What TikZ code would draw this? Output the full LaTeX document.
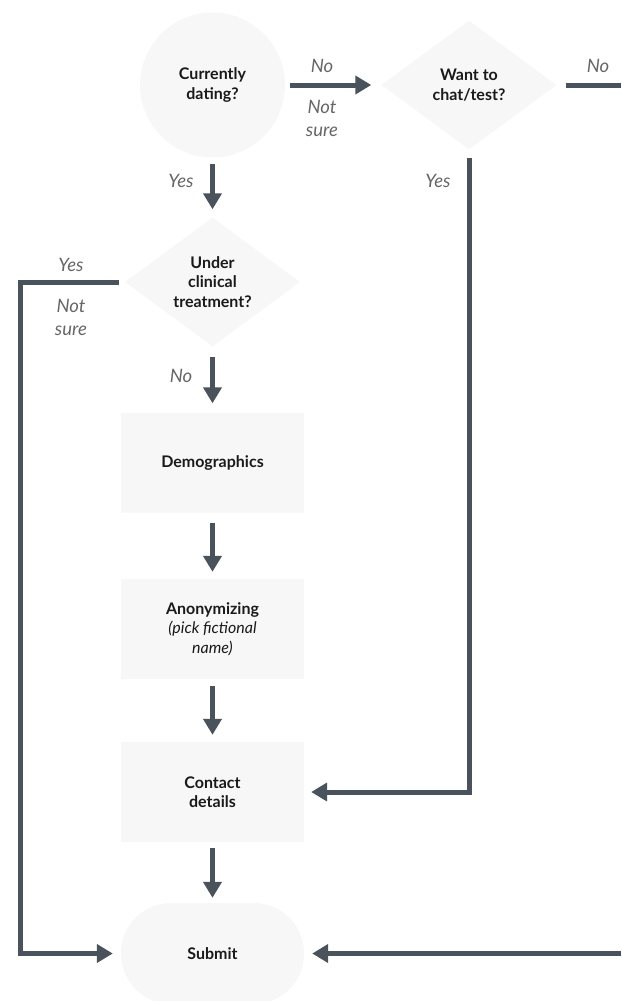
\documentclass[tikz,border=0pt]{standalone}
\usepackage{fontspec}
\setmainfont{Lato}
\usetikzlibrary{arrows.meta,shapes.geometric}

\definecolor{linkc}{HTML}{4A525C}
\definecolor{shapefill}{HTML}{F7F7F7}
\definecolor{labelc}{HTML}{666666}
\definecolor{textc}{HTML}{1A1A1A}

\begin{document}
\begin{tikzpicture}[x=1pt,y=-1pt,
  shapebase/.style={fill=shapefill,draw=none,inner sep=0pt,align=center,
    text=textc,font=\fontsize{16}{19.5}\selectfont\bfseries},
  decision/.style={shapebase,diamond,aspect=1.36,minimum width=175pt,minimum height=129pt},
  startnode/.style={shapebase,circle,minimum size=145pt},
  stepbox/.style={shapebase,rectangle,minimum width=183pt,minimum height=100pt},
  endnode/.style={shapebase,rectangle,rounded corners=50pt,minimum width=183pt,minimum height=101pt},
  link/.style={draw=linkc,line width=5pt,-{Triangle[length=16pt,width=18pt]}},
  plainlink/.style={draw=linkc,line width=5pt},
  answer/.style={text=labelc,align=center,font=\fontsize{18.5}{23}\selectfont\itshape}
]
\useasboundingbox (0,0) rectangle (621,1001);

% shapes
\node[startnode] (dating) at (212.5,85) {Currently\\dating?};
\node[decision] (chat) at (469,85) {Want to\\chat/test?};
\node[decision] (treat) at (212.5,282) {Under\\clinical\\treatment?};
\node[stepbox] (demo) at (212.5,462.5) {Demographics};
\node[stepbox] (anon) at (212.5,629) {Anonymizing\\{\mdseries\itshape (pick fictional}\\{\mdseries\itshape name)}};
\node[stepbox] (contact) at (212.5,792) {Contact\\details};
\begin{scope}
  \clip (0,0) rectangle (621,1001);
  \node[endnode] (submit) at (212.5,953.5) {Submit};
\end{scope}

% free ends at the right edge and the left corner
\coordinate (chatout) at (621,85);
\coordinate (subin) at (621,953.5);
\coordinate (lcorner) at (20,282);

% connectors
\draw[link,shorten <=5pt,shorten >=10pt] (dating.east) -- (chat.west);
\draw[plainlink,shorten <=9pt] (chat.east) -- (chatout);
\draw[link,shorten <=6pt,shorten >=8pt] (dating.south) -- (treat.north);
\draw[link,shorten <=8pt,shorten >=7pt] (chat.south) |- (contact.east);
\draw[link,shorten <=6pt,shorten >=8pt] (treat.west) -- (lcorner) |- (submit.west);
\draw[link,shorten <=10pt,shorten >=9pt] (treat.south) -- (demo.north);
\draw[link,shorten <=10pt,shorten >=7pt] (demo.south) -- (anon.north);
\draw[link,shorten <=7pt,shorten >=7pt] (anon.south) -- (contact.north);
\draw[link,shorten <=6pt,shorten >=5pt] (contact.south) -- (submit.north);
\draw[link,shorten >=8pt] (subin) -- (submit.east);

% answer labels
\node[answer] (l1) at (322,66) {No};
\node[answer] (l2) at (322,118) {Not\\sure};
\node[answer] (l3) at (598,66) {No};
\node[answer] (l4) at (181,181) {Yes};
\node[answer] (l5) at (438,181) {Yes};
\node[answer] (l6) at (71,265) {Yes};
\node[answer] (l7) at (71,317) {Not\\sure};
\node[answer] (l8) at (181,376) {No};
\end{tikzpicture}
\end{document}
